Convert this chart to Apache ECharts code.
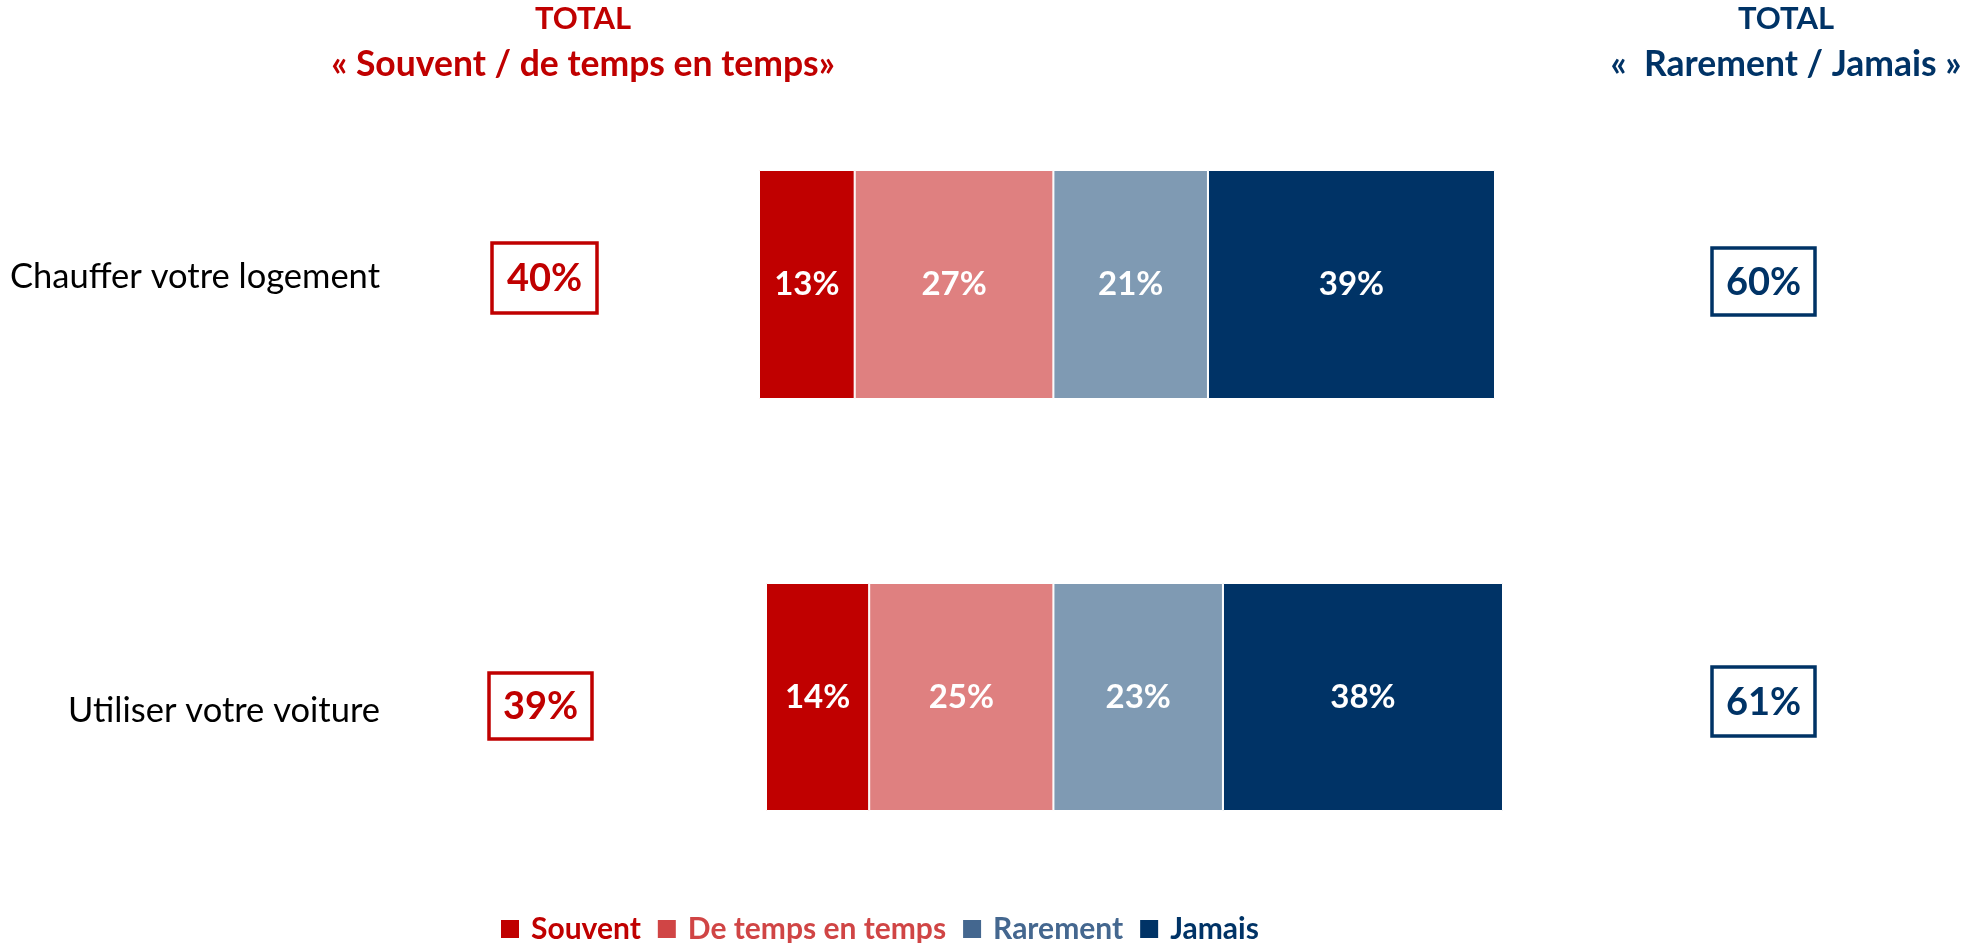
<!DOCTYPE html>
<html>
<head>
<meta charset="utf-8">
<script src="https://cdn.jsdelivr.net/npm/echarts@6/dist/echarts.min.js"></script>
<style>
  html, body { margin: 0; padding: 0; background: #fff; }
  #main { width: 1965px; height: 943px; }
</style>
</head>
<body>
<div id="main"></div>
<script>
const categories = ['Chauffer votre logement', 'Utiliser votre voiture']
const souvent = [13, 14]
const deTempsEnTemps = [27, 25]
const rarement = [21, 23]
const jamais = [39, 38]
const totalSouvent = [40, 39]
const totalRarement = [60, 61]

const RED = '#C00000'
const BLUE = '#003366'
const FONT = 'Lato'

const seriesDefs = [
  { name: 'Souvent', values: souvent, color: '#C00000', legendColor: '#C00000' },
  { name: 'De temps en temps', values: deTempsEnTemps, color: '#DF8080', legendColor: '#D04545' },
  { name: 'Rarement', values: rarement, color: '#7F9AB3', legendColor: '#44678F' },
  { name: 'Jamais', values: jamais, color: '#003366', legendColor: '#003366' }
]

// one grid per row (the rows are slightly shifted in the original)
const grids = [
  { left: 759, width: 736, top: 170, height: 229 },
  { left: 766, width: 737, top: 583, height: 228 }
]
// vertical shift of the row labels vs. bar centre
const labelPadding = [[0, 0, 16, 0], [28, 0, 0, 0]]

const chart = echarts.init(document.getElementById('main'))

const series = []
categories.forEach((cat, i) => {
  seriesDefs.forEach(d => {
    series.push({
      name: d.name,
      type: 'bar',
      stack: 'row' + i,
      xAxisIndex: i,
      yAxisIndex: i,
      barWidth: '100%',
      data: [d.values[i]],
      itemStyle: { color: d.color, borderColor: '#fff', borderWidth: 1 },
      label: {
        show: true,
        position: 'inside',
        formatter: '{c}%',
        color: '#fff',
        fontFamily: FONT,
        fontWeight: 'bold',
        fontSize: 33
      }
    })
  })
})

const boxes = [
  { x: 492, y: 243, w: 105, h: 70, text: totalSouvent[0] + '%', color: RED },
  { x: 489, y: 673, w: 103, h: 66, text: totalSouvent[1] + '%', color: RED },
  { x: 1712, y: 248, w: 103, h: 67, text: totalRarement[0] + '%', color: BLUE },
  { x: 1712, y: 667, w: 103, h: 69, text: totalRarement[1] + '%', color: BLUE }
]

const graphic = []
boxes.forEach(b => {
  graphic.push({
    type: 'rect',
    shape: { x: b.x, y: b.y, width: b.w, height: b.h },
    style: { fill: '#fff', stroke: b.color, lineWidth: 3.5 }
  })
  graphic.push({
    type: 'text',
    x: b.x + b.w / 2,
    y: b.y + b.h / 2 + 1,
    style: {
      text: b.text, fill: b.color, align: 'center', verticalAlign: 'middle',
      font: 'bold 38px ' + FONT
    }
  })
})
const titles = [
  { x: 583, lines: ['TOTAL', '« Souvent / de temps en temps»'], color: RED },
  { x: 1786, lines: ['TOTAL', '«  Rarement / Jamais »'], color: BLUE }
]
titles.forEach(t => {
  t.lines.forEach((line, k) => {
    graphic.push({
      type: 'text',
      x: t.x,
      y: k === 0 ? 19 : 65,
      style: {
        text: line, fill: t.color, align: 'center', verticalAlign: 'middle',
        font: 'bold ' + (k === 0 ? 31 : 35.5) + 'px ' + FONT
      }
    })
  })
})

chart.setOption({
  animation: false,
  grid: grids,
  xAxis: grids.map((g, i) => ({ type: 'value', gridIndex: i, min: 0, max: 100, show: false })),
  yAxis: grids.map((g, i) => ({
    type: 'category',
    gridIndex: i,
    data: [categories[i]],
    axisLine: { show: false },
    axisTick: { show: false },
    axisLabel: {
      margin: g.left - 380,
      formatter: v => '{a|' + v + '}',
      rich: {
        a: {
          color: '#000',
          fontFamily: FONT,
          fontSize: 34.5,
          padding: labelPadding[i]
        }
      }
    }
  })),
  legend: {
    left: 499,
    top: 914,
    padding: 0,
    icon: 'rect',
    itemWidth: 20,
    itemHeight: 20,
    itemGap: 15,
    textStyle: { fontFamily: FONT, fontWeight: 'bold', fontSize: 30, padding: [0, 0, 0, 6] },
    data: seriesDefs.map(d => ({
      name: d.name,
      itemStyle: { color: d.legendColor },
      textStyle: { color: d.legendColor }
    }))
  },
  graphic: graphic,
  series: series
})
</script>
</body>
</html>
